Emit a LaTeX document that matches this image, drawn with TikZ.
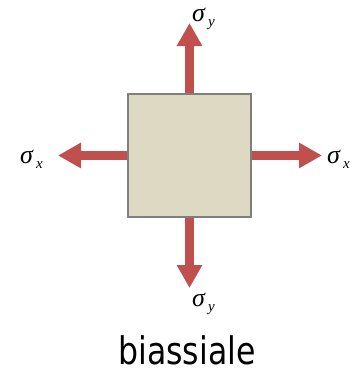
\documentclass[tikz,border=0pt]{standalone}
\usepackage{fontspec}
\newfontfamily\labfont{DejaVu Sans}
\newfontfamily\grkfont{Liberation Serif}
\usetikzlibrary{arrows.meta}
\definecolor{arrred}{HTML}{C0504D}
\definecolor{boxfill}{HTML}{DDD9C3}
\definecolor{boxline}{HTML}{7F7F7F}
\newcommand{\sigsub}[1]{{\grkfont\itshape\fontsize{26}{28}\selectfont σ\hspace{3pt}\raisebox{-5pt}{\fontsize{15}{16}\selectfont #1}}}
\tikzset{
  force/.style={draw=arrred, line width=8.5pt, -{Triangle[width=24pt,length=23pt]}},
  sig/.style={inner sep=0pt, anchor=base west}
}
\begin{document}
\begin{tikzpicture}[x=1pt,y=-1pt]
\useasboundingbox (0,0) rectangle (362,372);
\node[draw=boxline, fill=boxfill, line width=1.5pt, minimum width=123pt, minimum height=123pt, inner sep=0pt] (sq) at (189.5,155.5) {};
\coordinate (tt) at (189.5,23);
\coordinate (tb) at (189.5,288);
\coordinate (tl) at (58,155.5);
\coordinate (tr) at (322,155.5);
\draw[force] (sq.north) -- (tt);
\draw[force] (sq.south) -- (tb);
\draw[force] (sq.west) -- (tl);
\draw[force] (sq.east) -- (tr);
\node[sig] (ly1) at (192,21) {\sigsub{y}};
\node[sig] (ly2) at (192,306) {\sigsub{y}};
\node[sig] (lx1) at (20,163) {\sigsub{x}};
\node[sig] (lx2) at (327,163) {\sigsub{x}};
\node[anchor=base, inner sep=0pt, font=\labfont\fontsize{38}{40}\selectfont] (cap) at (187,364) {\scalebox{0.83}[1]{biassiale}};
\end{tikzpicture}
\end{document}
